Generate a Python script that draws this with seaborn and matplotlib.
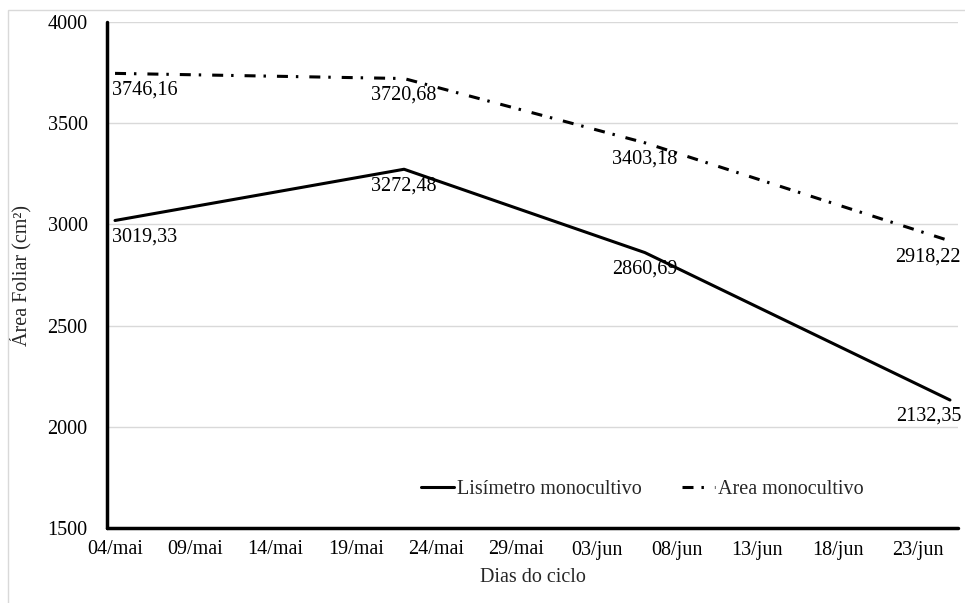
import matplotlib
matplotlib.use("Agg")
import matplotlib.pyplot as plt
from matplotlib.patches import Rectangle
import pandas as pd
import seaborn as sns

# Sampling dates (day/month) and leaf area for each treatment
datas = ["04/05", "22/05", "06/06", "25/06"]
lisimetro = [3019.33, 3272.48, 2860.69, 2132.35]
area = [3746.16, 3720.68, 3403.18, 2918.22]
series_names = ["Lisímetro monocultivo", "Area monocultivo"]
tick_labels = ["04/mai", "09/mai", "14/mai", "19/mai", "24/mai", "29/mai",
               "03/jun", "08/jun", "13/jun", "18/jun", "23/jun"]
y_ticks = [1500, 2000, 2500, 3000, 3500, 4000]

sns.set_style("white")
plt.rcParams["font.family"] = ["Liberation Serif", "DejaVu Serif"]
plt.rcParams["font.size"] = 14.5

dates = pd.to_datetime([d + "/2021" for d in datas], format="%d/%m/%Y")
day = (dates - dates[0]).days

df = pd.concat([
    pd.DataFrame({"dia": day, "valor": lisimetro, "serie": series_names[0]}),
    pd.DataFrame({"dia": day, "valor": area, "serie": series_names[1]}),
])

fig = plt.figure(figsize=(9.65, 6.03), dpi=100)
ax = fig.add_axes([107 / 965, 1 - 528 / 603, 851 / 965, 506 / 603])

lw = 2.2
dash_dot = (3.6, 2.6, 0.8, 3.6)
sns.lineplot(data=df, x="dia", y="valor", style="serie",
             dashes={series_names[0]: "", series_names[1]: dash_dot},
             color="black", linewidth=lw, ax=ax, legend=False)

# Value labels beneath each point
aligns = [("left", -2), ("center", 0), ("center", 0), ("right", 8)]
for vals in (lisimetro, area):
    for x, v, (ha, dx) in zip(day, vals, aligns):
        ax.annotate(f"{v:.2f}".replace(".", ","), (x, v),
                    xytext=(dx, -5), textcoords="offset points",
                    ha=ha, va="top", fontsize=14.5, color="#000000")

ax.set_xlim(-0.5, 52.5)
ax.set_ylim(1500, 4000)
ax.set_xticks(range(0, 55, 5))
ax.set_xticklabels(tick_labels)
ax.set_yticks(y_ticks)
ax.tick_params(axis="both", length=0, labelsize=14.5, colors="black")
ax.tick_params(axis="y", pad=14)
ax.tick_params(axis="x", pad=9)

ax.grid(axis="y", color="#d9d9d9", linewidth=1)
ax.set_axisbelow(True)
for s in ["top", "right"]:
    ax.spines[s].set_visible(False)
for s in ["left", "bottom"]:
    ax.spines[s].set_color("black")
    ax.spines[s].set_linewidth(2.5)
    ax.spines[s].set_capstyle("round")

ax.set_xlabel("Dias do ciclo", fontsize=14.5, va="center")
ax.set_ylabel("Área Foliar (cm²)", fontsize=14.5, va="center")
ax.xaxis.set_label_coords(0.5, -0.097)
ax.yaxis.set_label_coords(-0.102, 0.5)

handles = [plt.Line2D([], [], color="black", linewidth=lw),
           plt.Line2D([], [], color="black", linewidth=lw, dashes=dash_dot)]
ax.legend(handles, series_names, loc="center", bbox_to_anchor=(0.629, 0.077),
          ncol=2, frameon=False, handlelength=1.65, handletextpad=0.15,
          columnspacing=2.0, fontsize=14.5)

# Chart-area border
fig.patches.append(Rectangle((8 / 965, -0.01), 1.0, 1 - 10 / 603 + 0.01,
                             transform=fig.transFigure, fill=False,
                             edgecolor="#d9d9d9", linewidth=1))

fig.savefig("out.png", dpi=100)
